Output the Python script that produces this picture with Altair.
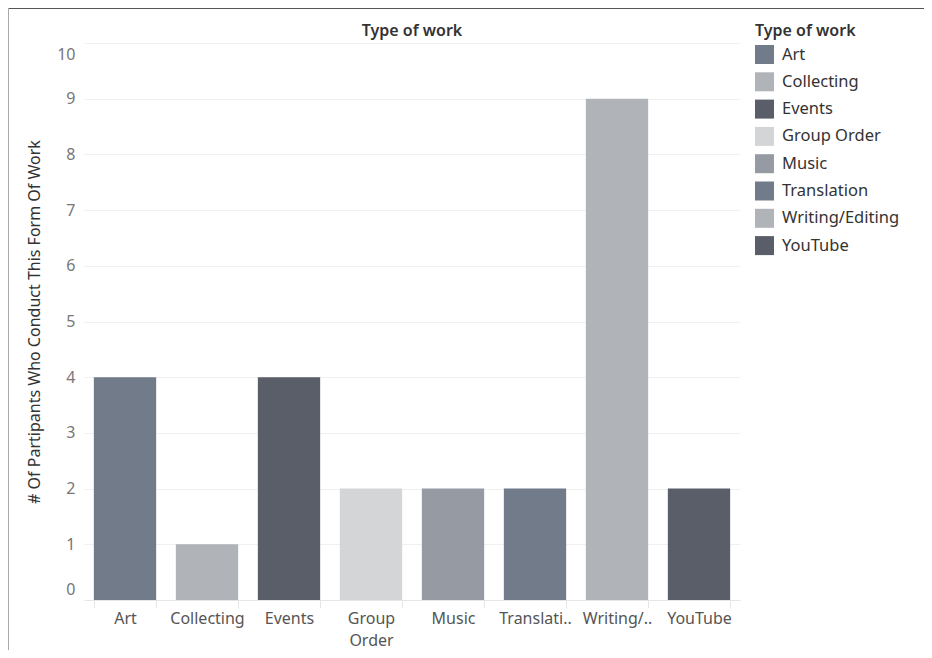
import altair as alt
import pandas as pd

categories = ["Art", "Collecting", "Events", "Group Order", "Music", "Translation", "Writing/Editing", "YouTube"]
counts = [4, 1, 4, 2, 2, 2, 9, 2]
colors = ["#717b8a", "#b0b4b9", "#5a5e69", "#d4d5d7", "#959aa3", "#717b8a", "#b0b4b9", "#5a5e69"]
header_title = "Type of work"

df = pd.DataFrame({"Type of work": categories, "count": counts})
title_df = pd.DataFrame({"t": [header_title]})

FONT = "Noto Sans"

label_expr = (
    "datum.value == 'Group Order' ? ['Group', 'Order'] : "
    "datum.value == 'Translation' ? 'Translati..' : "
    "datum.value == 'Writing/Editing' ? 'Writing/..' : datum.value"
)

bars = alt.Chart(df).mark_bar().encode(
    x=alt.X("Type of work:N", sort=categories, title=None,
            scale=alt.Scale(paddingInner=0.24, paddingOuter=0.12),
            axis=alt.Axis(labelAngle=0, labelExpr=label_expr, labelFontSize=16,
                          labelColor="#555555", labelPadding=2, labelFont=FONT,
                          labelLineHeight=22,
                          ticks=True, tickBand="extent", tickColor="#e6e6e6", tickSize=8,
                          domain=True, domainColor="#e6e6e6", grid=False)),
    y=alt.Y("count:Q", title="# Of Partipants Who Conduct This Form Of Work",
            scale=alt.Scale(domain=[0, 10], nice=False),
            axis=alt.Axis(values=list(range(0, 11)), labelFontSize=16, labelColor="#777777",
                          labelFont=FONT, labelFlush=True, labelFlushOffset=-3, labelPadding=9,
                          ticks=False, domain=False, gridColor="#f0f0f0", gridWidth=1,
                          titleFont=FONT, titleFontSize=16, titleColor="#333333",
                          titleFontWeight="normal", titlePadding=14)),
    color=alt.Color("Type of work:N", sort=categories,
                    scale=alt.Scale(domain=categories, range=colors),
                    legend=alt.Legend(title=header_title, orient="none", legendX=671, legendY=-20,
                                      symbolType="square", symbolSize=361, symbolStrokeWidth=0,
                                      labelFontSize=16.5, labelColor="#333333", labelFont=FONT,
                                      labelOffset=8, rowPadding=8.3,
                                      titleFont=FONT, titleFontSize=16, titleColor="#333333",
                                      titleFontWeight=600, titlePadding=6)),
)

title_text = alt.Chart(title_df).mark_text(
    font=FONT, fontSize=16, fontWeight=600, color="#333333", align="center", baseline="middle"
).encode(text="t:N", x=alt.value(328), y=alt.value(-12))

top_line = alt.Chart(title_df).mark_rule(color="#555555", strokeWidth=2).encode(
    x=alt.value(-76), x2=alt.value(900), y=alt.value(-35))
left_line = alt.Chart(title_df).mark_rule(color="#aaaaaa", strokeWidth=2).encode(
    x=alt.value(-76), y=alt.value(-35), y2=alt.value(640))

chart = alt.layer(bars, title_text, top_line, left_line).properties(
    width=656, height=557,
    autosize=alt.AutoSizeParams(type="none"),
    padding={"left": 76, "top": 35, "right": 184, "bottom": 50},
).configure_view(stroke=None)

chart.save("out.html", embed_options={"renderer": "svg", "actions": False})
